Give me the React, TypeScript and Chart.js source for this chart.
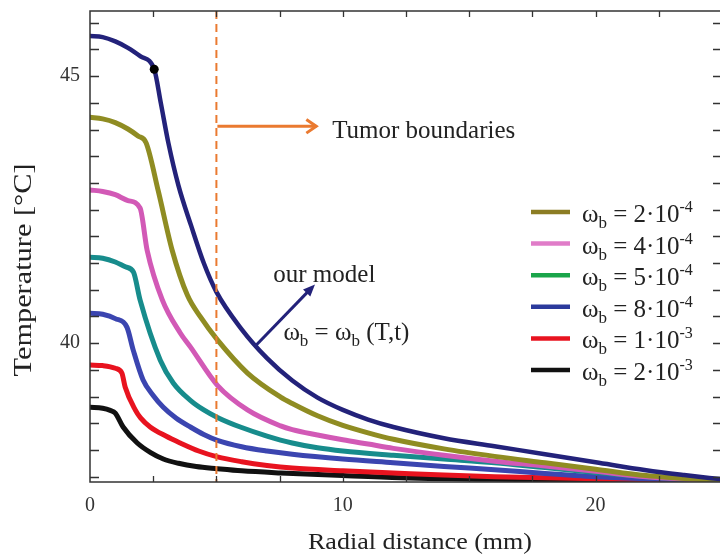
import { useEffect, useRef } from 'react';
import { Chart, registerables } from 'chart.js';

Chart.register(...registerables);

const FONT = "'Liberation Serif', 'Times New Roman', serif";

// Radial distance (mm) and temperature (°C) for the temperature-dependent perfusion model
const rOurModel = [0, 0.5, 1.0, 1.5, 2.0, 2.54, 2.8, 3.1, 3.5, 4.0, 4.5, 5.0, 6.0, 7.0, 8.0, 9.0, 10.0, 11.0, 12.0, 14.0, 16.0, 18.0, 20.0, 22.0, 23.5, 25];
const tOurModel = [45.75, 45.73, 45.65, 45.53, 45.37, 45.13, 44.5, 43.75, 42.95, 42.2, 41.5, 40.96, 40.26, 39.72, 39.3, 38.98, 38.75, 38.57, 38.43, 38.22, 38.07, 37.92, 37.77, 37.62, 37.53, 37.45];

// Constant perfusion cases
const rOmega2e4 = [0, 0.5, 1.0, 1.5, 1.9, 2.22, 2.7, 3.25, 3.85, 4.37, 5.04, 6.23, 7.54, 8.0, 9.0, 10.0, 11.0, 12.0, 14.0, 16.0, 18.0, 20.0, 22.0, 25];
const tOmega2e4 = [44.23, 44.2, 44.13, 44.01, 43.88, 43.75, 42.85, 41.74, 40.9, 40.49, 40.06, 39.44, 38.99, 38.87, 38.64, 38.46, 38.32, 38.2, 38.02, 37.88, 37.76, 37.64, 37.52, 37.42];

const rOmega4e4 = [0, 0.5, 1.0, 1.5, 1.98, 2.26, 2.86, 3.57, 3.97, 5.04, 6.23, 7.54, 8.0, 9.0, 10.0, 11.0, 12.0, 14.0, 16.0, 18.0, 20.0, 22.0, 25];
const tOmega4e4 = [42.87, 42.84, 42.78, 42.67, 42.53, 41.74, 40.81, 40.19, 39.93, 39.21, 38.75, 38.45, 38.38, 38.28, 38.19, 38.11, 38.03, 37.9, 37.79, 37.7, 37.6, 37.5, 37.42];

const rOmega5e4 = [0, 0.5, 1.0, 1.4, 1.72, 1.98, 2.78, 3.3, 3.97, 4.5, 5.04, 6.0, 7.0, 8.0, 9.0, 10.0, 12.0, 14.0, 16.0, 18.0, 20.0, 22.0, 25];
const tOmega5e4 = [41.61, 41.59, 41.52, 41.43, 41.33, 40.81, 39.68, 39.25, 38.93, 38.75, 38.61, 38.42, 38.26, 38.13, 38.04, 37.98, 37.9, 37.83, 37.76, 37.67, 37.58, 37.5, 37.43];

const rOmega8e4 = [0, 0.5, 1.0, 1.46, 1.71, 2.1, 2.5, 2.9, 3.4, 3.97, 4.5, 5.04, 6.0, 7.0, 8.0, 10.0, 12.0, 14.0, 16.0, 18.0, 20.0, 22.0, 25];
const tOmega8e4 = [40.56, 40.54, 40.46, 40.3, 39.87, 39.31, 39.02, 38.8, 38.6, 38.43, 38.29, 38.18, 38.06, 37.98, 37.92, 37.83, 37.76, 37.69, 37.63, 37.56, 37.5, 37.46, 37.42];

const rOmega1e3 = [0, 0.5, 1.0, 1.26, 1.39, 1.79, 2.0, 2.38, 3.0, 3.57, 4.3, 5.04, 6.0, 7.0, 8.0, 10.0, 12.0, 14.0, 16.0, 20.0, 25];
const tOmega1e3 = [39.59, 39.58, 39.53, 39.44, 39.18, 38.75, 38.6, 38.43, 38.26, 38.13, 37.98, 37.87, 37.78, 37.71, 37.66, 37.61, 37.57, 37.53, 37.5, 37.46, 37.42];

const rOmega2e3 = [0, 0.5, 0.8, 1.0, 1.31, 1.87, 2.4, 2.9, 3.5, 4.2, 5.04, 6.0, 7.54, 10.0, 12.3, 16.0, 25];
const tOmega2e3 = [38.8, 38.78, 38.74, 38.69, 38.43, 38.13, 37.95, 37.83, 37.75, 37.69, 37.65, 37.61, 37.57, 37.52, 37.48, 37.45, 37.42];

// Marked point where the model curve leaves the heated core
const markerR = [2.54];
const markerT = [45.13];

// Legend entries: ω_b = mantissa·10^exponent
const perfusionMantissa = ['2', '4', '5', '8', '1', '2'];
const perfusionExponent = ['-4', '-4', '-4', '-4', '-3', '-3'];
const curveColors = ['#8f8c22', '#d259b6', '#178c8c', '#3b45b0', '#e8131f', '#111111'];
const legendSwatchColors = ['#8c7d24', '#e07cc8', '#1aa54a', '#2b3a9c', '#e8131f', '#111111'];
const modelColor = '#23227a';

const tumorBoundary = 5; // mm
const xTickLabels = [0, 10, 20];
const yTickLabels = [40, 45];

const curveR = [rOmega2e4, rOmega4e4, rOmega5e4, rOmega8e4, rOmega1e3, rOmega2e3];
const curveT = [tOmega2e4, tOmega4e4, tOmega5e4, tOmega8e4, tOmega1e3, tOmega2e3];

const toPoints = (r: number[], t: number[]) => r.map((x, i) => ({ x, y: t[i] }));

type Part = { t: string; s: number; dy?: number };

function drawRich(ctx: CanvasRenderingContext2D, parts: Part[], x: number, y: number) {
  let cx = x;
  for (const p of parts) {
    ctx.font = `${p.s}px ${FONT}`;
    ctx.fillText(p.t, cx, y + (p.dy || 0));
    cx += ctx.measureText(p.t).width;
  }
  return cx;
}

function drawFitted(
  ctx: CanvasRenderingContext2D,
  text: string,
  cx: number,
  cy: number,
  size: number,
  width: number,
  angle: number
) {
  ctx.save();
  ctx.font = `${size}px ${FONT}`;
  const w = ctx.measureText(text).width;
  ctx.translate(cx, cy);
  ctx.rotate(angle);
  ctx.scale(width / w, 1);
  ctx.textAlign = 'center';
  ctx.textBaseline = 'middle';
  ctx.fillText(text, 0, 0);
  ctx.restore();
}

function arrowHeadOpen(ctx: CanvasRenderingContext2D, x: number, y: number, ang: number, len: number) {
  ctx.beginPath();
  ctx.moveTo(x - len * Math.cos(ang - 0.6), y - len * Math.sin(ang - 0.6));
  ctx.lineTo(x, y);
  ctx.lineTo(x - len * Math.cos(ang + 0.6), y - len * Math.sin(ang + 0.6));
  ctx.stroke();
}

// The plot frame runs just past the right edge of the canvas
const plotRightEdge = 722;

const widenPlot = {
  id: 'widenPlot',
  afterLayout(chart: any) {
    const xs = chart.scales.x;
    xs.right = plotRightEdge;
    xs.width = xs.right - xs.left;
    xs.configure();
    chart.chartArea.right = plotRightEdge;
    chart.chartArea.width = plotRightEdge - chart.chartArea.left;
  },
};

const decorations = {
  id: 'decorations',
  afterDatasetsDraw(chart: any) {
    const ctx: CanvasRenderingContext2D = chart.ctx;
    const { left, right, top, bottom } = chart.chartArea;
    const xs = chart.scales.x;
    const ys = chart.scales.y;
    ctx.save();

    // tumour boundary
    const xb = xs.getPixelForValue(tumorBoundary);
    ctx.strokeStyle = '#ea7a30';
    ctx.lineWidth = 2;
    ctx.setLineDash([8, 5]);
    ctx.beginPath();
    ctx.moveTo(xb, top);
    ctx.lineTo(xb, bottom);
    ctx.stroke();
    ctx.setLineDash([]);

    // frame
    ctx.strokeStyle = '#333';
    ctx.lineWidth = 1.5;
    ctx.strokeRect(left, top, right - left, bottom - top);

    // inward ticks
    ctx.lineWidth = 1.3;
    ctx.beginPath();
    for (let v = 37.5; v <= 46.01; v += 0.5) {
      const py = Math.round(ys.getPixelForValue(v)) + 0.5;
      ctx.moveTo(left, py);
      ctx.lineTo(left + 9, py);
      ctx.moveTo(right, py);
      ctx.lineTo(right - 9, py);
    }
    for (let v = 2.5; v < 25; v += 2.5) {
      const px = Math.round(xs.getPixelForValue(v)) + 0.5;
      ctx.moveTo(px, bottom);
      ctx.lineTo(px, bottom - 6);
      ctx.moveTo(px, top);
      ctx.lineTo(px, top + 6);
    }
    ctx.stroke();

    ctx.fillStyle = '#222';
    ctx.textBaseline = 'alphabetic';
    ctx.textAlign = 'left';

    // "Tumor boundaries" arrow
    const ay = ys.getPixelForValue(44.06);
    const ax1 = xs.getPixelForValue(8.95);
    ctx.strokeStyle = '#ea7a30';
    ctx.lineWidth = 3;
    ctx.beginPath();
    ctx.moveTo(xb + 1, ay);
    ctx.lineTo(ax1, ay);
    ctx.stroke();
    arrowHeadOpen(ctx, ax1, ay, 0, 12);
    drawRich(ctx, [{ t: 'Tumor boundaries', s: 25 }], xs.getPixelForValue(9.58), ys.getPixelForValue(43.85));

    // "our model" arrow
    const tx = xs.getPixelForValue(6.55);
    const ty = ys.getPixelForValue(39.95);
    const hx = xs.getPixelForValue(8.9);
    const hy = ys.getPixelForValue(41.1);
    const ang = Math.atan2(hy - ty, hx - tx);
    ctx.strokeStyle = modelColor;
    ctx.fillStyle = modelColor;
    ctx.lineWidth = 3;
    ctx.beginPath();
    ctx.moveTo(tx, ty);
    ctx.lineTo(hx - 8 * Math.cos(ang), hy - 8 * Math.sin(ang));
    ctx.stroke();
    ctx.beginPath();
    ctx.moveTo(hx, hy);
    ctx.lineTo(hx - 13 * Math.cos(ang - 0.4), hy - 13 * Math.sin(ang - 0.4));
    ctx.lineTo(hx - 13 * Math.cos(ang + 0.4), hy - 13 * Math.sin(ang + 0.4));
    ctx.closePath();
    ctx.fill();

    ctx.fillStyle = '#222';
    drawRich(ctx, [{ t: 'our model', s: 25 }], xs.getPixelForValue(7.25), ys.getPixelForValue(41.15));
    drawRich(
      ctx,
      [
        { t: 'ω', s: 25 },
        { t: 'b', s: 17, dy: 6 },
        { t: ' = ω', s: 25 },
        { t: 'b', s: 17, dy: 6 },
        { t: ' (T,t)', s: 25 },
      ],
      xs.getPixelForValue(7.65),
      ys.getPixelForValue(40.06)
    );

    // legend
    const lx = 531;
    for (let i = 0; i < perfusionMantissa.length; i++) {
      const rowY = 212 + i * 31.6;
      ctx.strokeStyle = legendSwatchColors[i];
      ctx.lineWidth = 4.5;
      ctx.beginPath();
      ctx.moveTo(lx, rowY);
      ctx.lineTo(lx + 39, rowY);
      ctx.stroke();
      ctx.fillStyle = '#222';
      drawRich(
        ctx,
        [
          { t: 'ω', s: 25 },
          { t: 'b', s: 17, dy: 6 },
          { t: ' = ' + perfusionMantissa[i] + '·10', s: 25 },
          { t: perfusionExponent[i], s: 16, dy: -10 },
        ],
        582,
        rowY + 10
      );
    }

    // axis titles
    ctx.fillStyle = '#222';
    drawFitted(ctx, 'Radial distance (mm)', 420, 543, 24, 224, 0);
    drawFitted(ctx, 'Temperature [°C]', 24, 270, 25, 213, -Math.PI / 2);

    ctx.restore();
  },
};

export default function App() {
  const ref = useRef<HTMLCanvasElement | null>(null);

  useEffect(() => {
    if (!ref.current) return;
    const datasets: any[] = [
      {
        data: toPoints(markerR, markerT),
        showLine: false,
        pointRadius: 4.5,
        pointBackgroundColor: '#000',
        pointBorderWidth: 0,
      },
      {
        data: toPoints(rOurModel, tOurModel),
        borderColor: modelColor,
        borderWidth: 4.5,
        pointRadius: 0,
        cubicInterpolationMode: 'monotone',
      },
      ...curveR.map((r, i) => ({
        data: toPoints(r, curveT[i]),
        borderColor: curveColors[i],
        borderWidth: 5,
        pointRadius: 0,
        cubicInterpolationMode: 'monotone',
      })),
    ];
    const chart = new Chart(ref.current, {
      type: 'line',
      data: { datasets },
      options: {
        responsive: false,
        animation: false,
        events: [],
        layout: { padding: { top: 11, right: 0, left: 0, bottom: 0 } },
        elements: { line: { borderJoinStyle: 'round', borderCapStyle: 'round' } },
        plugins: { legend: { display: false }, tooltip: { enabled: false } },
        scales: {
          x: {
            type: 'linear',
            min: 0,
            max: 25,
            afterFit: (s: any) => {
              s.height = 75;
              s.paddingLeft = 0;
              s.paddingRight = 0;
            },
            grid: { display: false, drawTicks: false },
            border: { display: false },
            ticks: {
              stepSize: 2.5,
              autoSkip: false,
              maxRotation: 0,
              padding: 12,
              color: '#333',
              font: { family: FONT, size: 20 },
              callback: (v: any) => (xTickLabels.some((t) => Math.abs(t - v) < 1e-6) ? String(Math.round(v)) : ''),
            },
          },
          y: {
            type: 'linear',
            min: 37.4,
            max: 46.22,
            afterFit: (s: any) => {
              s.width = 90;
              s.paddingTop = 0;
              s.paddingBottom = 0;
            },
            grid: { display: false, drawTicks: false },
            border: { display: false },
            ticks: {
              stepSize: 0.5,
              includeBounds: false,
              autoSkip: false,
              padding: 10,
              color: '#333',
              font: { family: FONT, size: 20 },
              callback: (v: any) => (yTickLabels.some((t) => Math.abs(t - v) < 1e-6) ? String(Math.round(v)) : ''),
            },
          },
        },
      } as any,
      plugins: [widenPlot, decorations],
    });
    return () => chart.destroy();
  }, []);

  return (
    <div style={{ position: 'fixed', left: 0, top: 0, width: 720, height: 557, background: '#fff' }}>
      <canvas ref={ref} width={720} height={557} style={{ display: 'block' }} />
    </div>
  );
}
